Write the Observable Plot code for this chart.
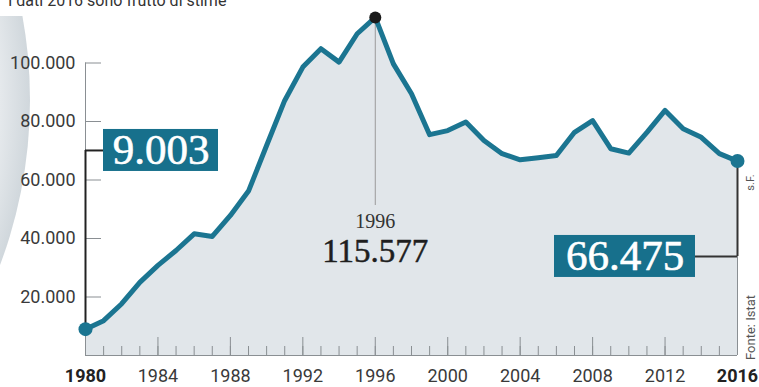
<!DOCTYPE html>
<html>
<head>
<meta charset="utf-8">
<script src="https://cdn.jsdelivr.net/npm/d3@7"></script>
<script src="https://cdn.jsdelivr.net/npm/@observablehq/plot@0.6"></script>
<style>
  html, body { margin: 0; padding: 0; background: #fff; overflow: hidden; }
  #wrap { position: relative; width: 759px; height: 387px; }
  #deco { position: absolute; left: 0; top: 16px; width: 40px; height: 260px; overflow: hidden; z-index: 0; }
  #deco div { position: absolute; left: -908px; top: -385px; width: 938px; height: 938px; border-radius: 50%;
    background: radial-gradient(circle closest-side, #f1f3f5 90%, #d0d7dc 100%); }
  #subtitle { position: absolute; left: 8px; top: -9px; font: 16px/20px Roboto, sans-serif; color: #333; z-index: 2; white-space: nowrap; }
  #chart { position: absolute; left: 0; top: 0; z-index: 1; }
  #chart svg { display: block; }
</style>
</head>
<body>
<div id="wrap">
  <div id="deco"><div></div></div>
  <div id="subtitle"></div>
  <div id="chart"></div>
</div>
<script>
// ---- data ----
const years = [1980, 1981, 1982, 1983, 1984, 1985, 1986, 1987, 1988, 1989,
               1990, 1991, 1992, 1993, 1994, 1995, 1996, 1997, 1998, 1999,
               2000, 2001, 2002, 2003, 2004, 2005, 2006, 2007, 2008, 2009,
               2010, 2011, 2012, 2013, 2014, 2015, 2016];
const values = [9003, 11900, 17700, 25000, 30800, 35900, 41600, 40700, 47900, 56200,
                71800, 87200, 98600, 104900, 100300, 110000, 115577, 99700, 89500, 75500,
                76900, 79800, 73500, 69000, 66900, 67600, 68400, 76300, 80300, 70700,
                69200, 76300, 83800, 77500, 74600, 69000, 66475];
const yTicks = [20000, 40000, 60000, 80000, 100000];
const xTickYears = [1984, 1988, 1992, 1996, 2000, 2004, 2008, 2012];
const xBoldYears = [1980, 2016];
const subtitleText = "I dati 2016 sono frutto di stime";
const sourceText = "Fonte: Istat";
const creditText = "s.F.";

// ---- build ----
const it = d3.formatLocale({decimal: ",", thousands: ".", grouping: [3], currency: ["€", ""]});
const fmt = it.format(",d");
const data = years.map((year, i) => ({year, value: values[i]}));
const first = data[0];
const last = data[data.length - 1];
const peak = data.reduce((a, b) => (b.value > a.value ? b : a));

document.getElementById("subtitle").textContent = subtitleText;

const teal = "#1b7591";
const boxTeal = "#17708c";
const axisGray = "#8a8f93";
const serif = "'Liberation Serif', 'DejaVu Serif', serif";

const chart = Plot.plot({
  width: 759,
  height: 387,
  marginLeft: 85,
  marginRight: 22,
  marginTop: 4,
  marginBottom: 32,
  x: {domain: [years[0], years[years.length - 1]], label: null},
  y: {domain: [0, 120000], label: null},
  style: {fontFamily: "Roboto, sans-serif", background: "transparent", overflow: "visible", color: "#3a3a3a"},
  marks: [
    Plot.areaY(data, {x: "year", y: "value", fill: "#e1e6ea"}),
    // axes lines
    Plot.ruleY([0], {stroke: axisGray, strokeWidth: 1}),
    Plot.ruleX([first], {x: "year", y1: 0, y2: () => yTicks[yTicks.length - 1], stroke: axisGray}),
    Plot.ruleX([last], {x: "year", y1: 0, y2: "value", stroke: axisGray}),
    // y ticks pointing inward
    Plot.tickY(yTicks, {y: d => d, insetRight: 636, stroke: axisGray}),
    // x ticks pointing upward
    Plot.tickX(years, {x: d => d, insetTop: 342, stroke: axisGray}),
    Plot.tickX([1980, ...xTickYears], {x: d => d, insetTop: 333, stroke: axisGray}),
    Plot.axisY({ticks: yTicks, tickSize: 0, tickPadding: 10, fontSize: 18, tickFormat: fmt, label: null, fill: "#3a3a3a"}),
    Plot.axisX({ticks: xTickYears, tickSize: 0, tickPadding: 14, fontSize: 18, tickFormat: d => String(d), label: null, fill: "#3a3a3a"}),
    Plot.axisX({ticks: xBoldYears, tickSize: 0, tickPadding: 14, fontSize: 18, fontWeight: "bold", tickFormat: d => String(d), label: null, fill: "#222"}),
    // peak leader
    Plot.tickX([peak], {x: "year", insetTop: 13, insetBottom: 150, stroke: "#9a9a9a", strokeWidth: 1}),
    // start/end leaders
    Plot.tickX([first], {x: "year", insetTop: 146, insetBottom: 26.3, stroke: "#222", strokeWidth: 2}),
    Plot.tickY([first], {y: "value", dy: -178.7, insetRight: 634, stroke: "#222", strokeWidth: 2}),
    Plot.tickX([last], {x: "year", insetTop: 156.6, insetBottom: 99, stroke: "#333", strokeWidth: 2}),
    Plot.tickY([last], {y: "value", dy: 95.4, insetLeft: 610, stroke: "#333", strokeWidth: 2}),
    // line and dots
    Plot.line(data, {x: "year", y: "value", stroke: teal, strokeWidth: 5, strokeLinejoin: "round", strokeLinecap: "round"}),
    Plot.dot([first, last], {x: "year", y: "value", r: 7, fill: teal}),
    Plot.dot([peak], {x: "year", y: "value", r: 6, fill: "#1a1a1a"}),
    // value boxes
    Plot.rect([first], {x1: "year", x2: "year", y1: "value", y2: "value",
      insetLeft: 18, insetRight: -133, insetTop: -199.7, insetBottom: 157.7, fill: boxTeal}),
    Plot.rect([last], {x1: "year", x2: "year", y1: "value", y2: "value",
      insetLeft: -183, insetRight: 42, insetTop: 74.4, insetBottom: -116.4, fill: boxTeal}),
    Plot.text([first], {x: "year", y: "value", text: d => fmt(d.value), dx: 75.5, dy: -178.7,
      fontFamily: serif, fontSize: 43, fill: "#fff", stroke: "#fff", strokeWidth: 0.6,
      textAnchor: "middle", lineAnchor: "middle"}),
    Plot.text([last], {x: "year", y: "value", text: d => fmt(d.value), dx: -112.5, dy: 95.4,
      fontFamily: serif, fontSize: 43, fill: "#fff", stroke: "#fff", strokeWidth: 0.6,
      textAnchor: "middle", lineAnchor: "middle"}),
    // peak labels
    Plot.text([peak], {x: "year", y: "value", text: d => String(d.year), dy: 211, lineAnchor: "bottom",
      fontFamily: serif, fontSize: 20, fill: "#333", textAnchor: "middle"}),
    Plot.text([peak], {x: "year", y: "value", text: d => fmt(d.value), dy: 245, lineAnchor: "bottom",
      fontFamily: serif, fontSize: 33, fill: "#1e1e1e", stroke: "#1e1e1e", strokeWidth: 0.5, textAnchor: "middle"}),
    // side notes
    Plot.text([creditText], {frameAnchor: "top-right", text: d => d, rotate: -90, dx: 13, dy: 178,
      fontSize: 11, fill: "#555", textAnchor: "middle", lineAnchor: "middle"}),
    Plot.text([sourceText], {frameAnchor: "top-right", text: d => d, rotate: -90, dx: 13, dy: 323,
      fontSize: 13, fill: "#555", textAnchor: "middle", lineAnchor: "middle"})
  ]
});
document.getElementById("chart").appendChild(chart);
</script>
</body>
</html>
